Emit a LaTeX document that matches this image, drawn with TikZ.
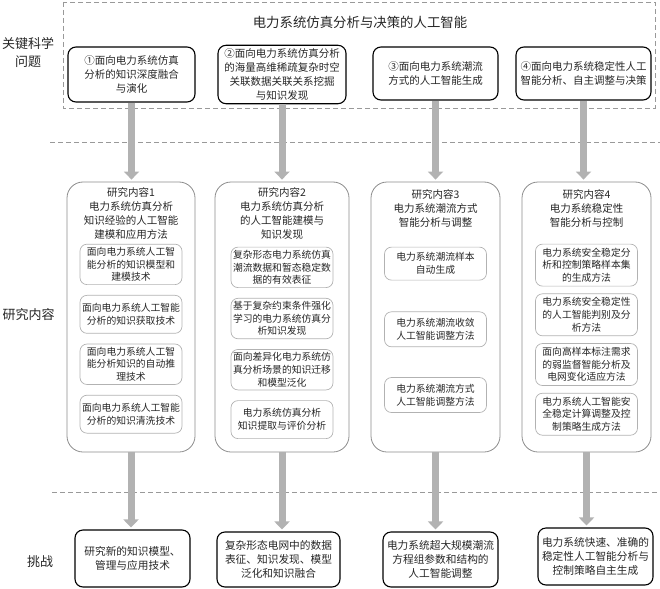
\documentclass[tikz,border=0pt]{standalone}
\usepackage{fontspec}
\setmainfont{Noto Sans CJK SC}
\usetikzlibrary{arrows.meta}
\usetikzlibrary{positioning}

\begin{document}
\begin{tikzpicture}[x=1pt, y=-1pt,
  every node/.style={text=black!85},
  key/.style={draw, line width=1.1pt, rounded corners=8pt, align=center, font=\fontsize{10.5}{14}\selectfont},
  col/.style={draw=black!45, line width=0.8pt, rounded corners=16pt, minimum height=270pt},
  coltitle/.style={inner sep=0pt, align=center, font=\fontsize{10.5}{14}\selectfont},
  sub/.style={draw=black!30, line width=0.7pt, rounded corners=7pt, text width=98pt, inner xsep=2pt, inner ysep=3pt, align=center, font=\fontsize{9.8}{12.7}\selectfont},
  hard/.style={draw, line width=1.1pt, rounded corners=8pt, align=center, minimum height=55pt, font=\fontsize{10.7}{14}\selectfont},
  side/.style={align=center, font=\fontsize{13}{18.5}\selectfont},
  flow/.style={draw=black!30, line width=7pt, -{Triangle[width=15pt,length=8pt]}, shorten >=2pt},
  sep/.style={draw=black!40, dash pattern=on 5pt off 3pt, line width=0.6pt}
]
\useasboundingbox (0,0) rectangle (660,588);

%key questions
\draw [sep] (63,2) rectangle (655,108);
\node (title) at (360,22) [font=\fontsize{13.4}{16}\selectfont] {电力系统仿真分析与决策的人工智能};
\node (kq) [side] at (28,52.5) {关键科学\\问题};
\node (q1) [key, minimum width=127pt, minimum height=55pt] at (131.5,74.5) {①面向电力系统仿真\\分析的知识深度融合\\与演化};
\node (q2) [key, minimum width=128pt, minimum height=55pt] at (282,74.5) {②面向电力系统仿真分析\\的海量高维稀疏复杂时空\\关联数据关联关系挖掘\\与知识发现};
\node (q3) [key, minimum width=125pt, minimum height=53pt] at (435.5,73.5) {③面向电力系统潮流\\方式的人工智能生成};
\node (q4) [key, minimum width=135pt, minimum height=53pt] at (583.5,73.5) {④面向电力系统稳定性人工\\智能分析、自主调整与决策};

\draw [sep] (50,142) -- (660,142);

%research contents
\node (rc) [side] at (28.5,315) {研究内容};

\node (r1) [col, minimum width=128pt] at (131,317) {};
\node (t1) [coltitle, below=6pt of r1.north] {研究内容1\\电力系统仿真分析\\知识经验的人工智能\\建模和应用方法};
\node (s11) [sub, minimum height=38pt, below=4pt of t1] {面向电力系统人工智\\能分析的知识模型和\\建模技术};
\node (s12) [sub, minimum height=38pt, below=10pt of s11] {面向电力系统人工智能\\分析的知识获取技术};
\node (s13) [sub, minimum height=38pt, below=10pt of s12] {面向电力系统人工智\\能分析知识的自动推\\理技术};
\node (s14) [sub, minimum height=38pt, below=10pt of s13] {面向电力系统人工智能\\分析的知识清洗技术};

\node (r2) [col, minimum width=134pt] at (282,317) {};
\node (t2) [coltitle, below=6pt of r2.north] {研究内容2\\电力系统仿真分析\\的人工智能建模与\\知识发现};
\node (s21) [sub, minimum height=38pt, below=7pt of t2] {复杂形态电力系统仿真\\潮流数据和暂态稳定数\\据的有效表征};
\node (s22) [sub, minimum height=38pt, below=10pt of s21] {基于复杂约束条件强化\\学习的电力系统仿真分\\析知识发现};
\node (s23) [sub, minimum height=38pt, below=10pt of s22] {面向差异化电力系统仿\\真分析场景的知识迁移\\和模型泛化};
\node (s24) [sub, minimum height=38pt, below=10pt of s23] {电力系统仿真分析\\知识提取与评价分析};

\node (r3) [col, minimum width=129pt] at (435.5,317) {};
\node (t3) [coltitle, below=8pt of r3.north] {研究内容3\\电力系统潮流方式\\智能分析与调整};
\node (s31) [sub, minimum height=33pt, below=19pt of t3] {电力系统潮流样本\\自动生成};
\node (s32) [sub, minimum height=35pt, below=31pt of s31] {电力系统潮流收敛\\人工智能调整方法};
\node (s33) [sub, minimum height=35pt, below=30pt of s32] {电力系统潮流方式\\人工智能调整方法};

\node (r4) [col, minimum width=129pt] at (586.5,317) {};
\node (t4) [coltitle, below=8pt of r4.north] {研究内容4\\电力系统稳定性\\智能分析与控制};
\node (s41) [sub, minimum height=42pt, below=16pt of t4] {电力系统安全稳定分\\析和控制策略样本集\\的生成方法};
\node (s42) [sub, minimum height=42pt, below=7pt of s41] {电力系统安全稳定性\\的人工智能判别及分\\析方法};
\node (s43) [sub, minimum height=42pt, below=7pt of s42] {面向高样本标注需求\\的弱监督智能分析及\\电网变化适应方法};
\node (s44) [sub, minimum height=42pt, below=7pt of s43] {电力系统人工智能安\\全稳定计算调整及控\\制策略生成方法};

\draw [flow] (q1.south) -- (q1.south |- r1.north);
\draw [flow] (q2.south) -- (q2.south |- r2.north);
\draw [flow] (q3.south) -- (q3.south |- r3.north);
\draw [flow] (q4.south) -- (q4.south |- r4.north);

\draw [sep] (52,492) -- (660,492);

%challenges
\node (ch) [side] at (40,562) {挑战};
\node (c1) [hard, minimum width=115pt, minimum height=57pt] at (132.5,558.5) {研究新的知识模型、\\管理与应用技术};
\node (c2) [hard, minimum width=123pt] at (278.5,559.5) {复杂形态电网中的数据\\表征、知识发现、模型\\泛化和知识融合};
\node (c3) [hard, minimum width=115pt] at (440.5,559.5) {电力系统超大规模潮流\\方程组参数和结构的\\人工智能调整};
\node (c4) [hard, minimum width=115pt, minimum height=57pt] at (595.5,556.5) {电力系统快速、准确的\\稳定性人工智能分析与\\控制策略自主生成};

\draw [flow] (r1.south) -- (r1.south |- c1.north);
\draw [flow] (r2.south) -- (r2.south |- c2.north);
\draw [flow] (r3.south) -- (r3.south |- c3.north);
\draw [flow] (r4.south) -- (r4.south |- c4.north);

\end{tikzpicture}
\end{document}
